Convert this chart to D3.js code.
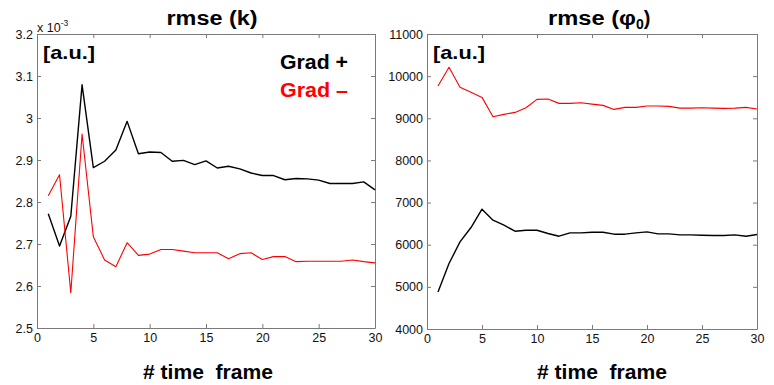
<!DOCTYPE html>
<html><head><meta charset="utf-8">
<script src="https://cdn.jsdelivr.net/npm/d3@7"></script>
<style>body{margin:0;background:#fff}svg{display:block}text{font-family:"Liberation Sans",Arial,sans-serif}</style>
</head><body><svg id="c" width="774" height="385"></svg>
<script>
const frames = d3.range(1, 31);
const kGradPlus = [2.772,2.695,2.766,3.079,2.882,2.897,2.924,2.992,2.915,2.919,2.918,2.897,2.899,2.889,2.898,2.881,2.885,2.879,2.869,2.863,2.863,2.853,2.856,2.855,2.852,2.844,2.844,2.844,2.848,2.829];
const kGradMinus = [2.815,2.865,2.584,2.962,2.717,2.662,2.646,2.703,2.673,2.676,2.687,2.687,2.683,2.679,2.679,2.679,2.665,2.677,2.679,2.663,2.670,2.670,2.658,2.659,2.659,2.659,2.659,2.662,2.658,2.655];
const phiGradPlus = [4879,5553,6067,6408,6843,6582,6463,6321,6344,6344,6266,6202,6281,6281,6297,6297,6250,6250,6281,6305,6257,6257,6234,6234,6226,6218,6218,6234,6202,6242];
const phiGradMinus = [9765,10209,9734,9615,9496,9036,9093,9140,9250,9449,9457,9354,9354,9370,9337,9306,9211,9259,9259,9290,9290,9283,9242,9242,9250,9242,9235,9242,9259,9219];
const xTicks = [0,5,10,15,20,25,30];
const kTicks = [2.5,2.6,2.7,2.8,2.9,3,3.1,3.2];
const phiTicks = [4000,5000,6000,7000,8000,9000,10000,11000];

const svg = d3.select("#c");
const axisColor = "#7a7a7a";
const FONT = '"Liberation Sans",Arial,sans-serif';

function panel(o) {
  const x = d3.scaleLinear().domain([0,30]).range([o.left, o.right]);
  const y = d3.scaleLinear().domain([o.ticks[0], o.ticks[o.ticks.length-1]]).range([o.bottom, o.top]);
  const g = svg.append("g");
  const ax = g.append("g").attr("transform", `translate(0,${o.bottom})`)
    .call(d3.axisBottom(x).tickValues(xTicks).tickSizeInner(-4).tickSizeOuter(0).tickPadding(5).tickFormat(d3.format("d")));
  const at = g.append("g").attr("transform", `translate(0,${o.top})`)
    .call(d3.axisTop(x).tickValues(xTicks).tickSizeInner(-4).tickSizeOuter(0).tickFormat(""));
  const ay = g.append("g").attr("transform", `translate(${o.left},0)`)
    .call(d3.axisLeft(y).tickValues(o.ticks).tickSizeInner(-4).tickSizeOuter(0).tickPadding(4).tickFormat(o.fmt));
  const ar = g.append("g").attr("transform", `translate(${o.right},0)`)
    .call(d3.axisRight(y).tickValues(o.ticks).tickSizeInner(-4).tickSizeOuter(0).tickFormat(""));
  [ax,at,ay,ar].forEach(a => {
    a.select(".domain").attr("stroke", axisColor);
    a.selectAll(".tick line").attr("stroke", axisColor);
    a.selectAll("text").attr("fill", "#111").style("font-size", "12.5px").style("font-family", FONT);
  });
  const line = d3.line().x((d,i) => x(frames[i])).y(d => y(d));
  o.series.forEach(s => {
    g.append("path").datum(s.values).attr("d", line).attr("fill","none")
      .attr("stroke", s.color).attr("stroke-width", s.width).attr("stroke-linejoin","round");
  });
  g.append("text").attr("x", o.xlabelX).attr("y", 379).attr("text-anchor","middle")
    .attr("textLength", 130).attr("lengthAdjust","spacingAndGlyphs")
    .style("font-size","21px").style("font-weight","bold").text("# time  frame").attr("xml:space","preserve");
  g.append("text").attr("x", o.left+6).attr("y", 59)
    .attr("textLength", 52).attr("lengthAdjust","spacingAndGlyphs")
    .style("font-size","19px").style("font-weight","bold").text("[a.u.]");
  return {x, y, g};
}

const L = panel({left:37, right:375, top:34, bottom:328, ticks:kTicks, fmt: d => String(d), xlabelX:208,
  series:[{values:kGradPlus,color:"#000",width:1.4},{values:kGradMinus,color:"#ff0000",width:1.1}]});
const R = panel({left:427, right:757, top:34, bottom:329, ticks:phiTicks, fmt: d3.format("d"), xlabelX:602,
  series:[{values:phiGradMinus,color:"#ff0000",width:1.1},{values:phiGradPlus,color:"#000",width:1.4}]});

// titles
L.g.append("text").attr("x", 212).attr("y", 25).attr("text-anchor","middle")
  .attr("textLength", 91).attr("lengthAdjust","spacingAndGlyphs")
  .style("font-size","20px").style("font-weight","bold").text("rmse (k)");
const rt = R.g.append("text").attr("x", 548).attr("y", 25)
  .style("font-size","20px").style("font-weight","bold");
rt.append("tspan").attr("textLength", 88).attr("lengthAdjust","spacingAndGlyphs").text("rmse (φ");
rt.append("tspan").attr("dy", 4).style("font-size","14px").text("0");
rt.append("tspan").attr("dy", -4).text(")");

// exponent label
const ex = L.g.append("text").attr("x", 37).attr("y", 32).style("font-size","12.5px").attr("fill","#111");
ex.append("tspan").text("x 10");
ex.append("tspan").attr("dy", -6).style("font-size","8.5px").text("-3");

// legend
L.g.append("text").attr("x", 280).attr("y", 69).attr("textLength", 68).attr("lengthAdjust","spacingAndGlyphs")
  .style("font-size","20px").style("font-weight","bold").attr("fill","#000").text("Grad +");
L.g.append("text").attr("x", 280).attr("y", 97).attr("textLength", 68).attr("lengthAdjust","spacingAndGlyphs")
  .style("font-size","20px").style("font-weight","bold").attr("fill","#ff0000").text("Grad –");
</script></body></html>
